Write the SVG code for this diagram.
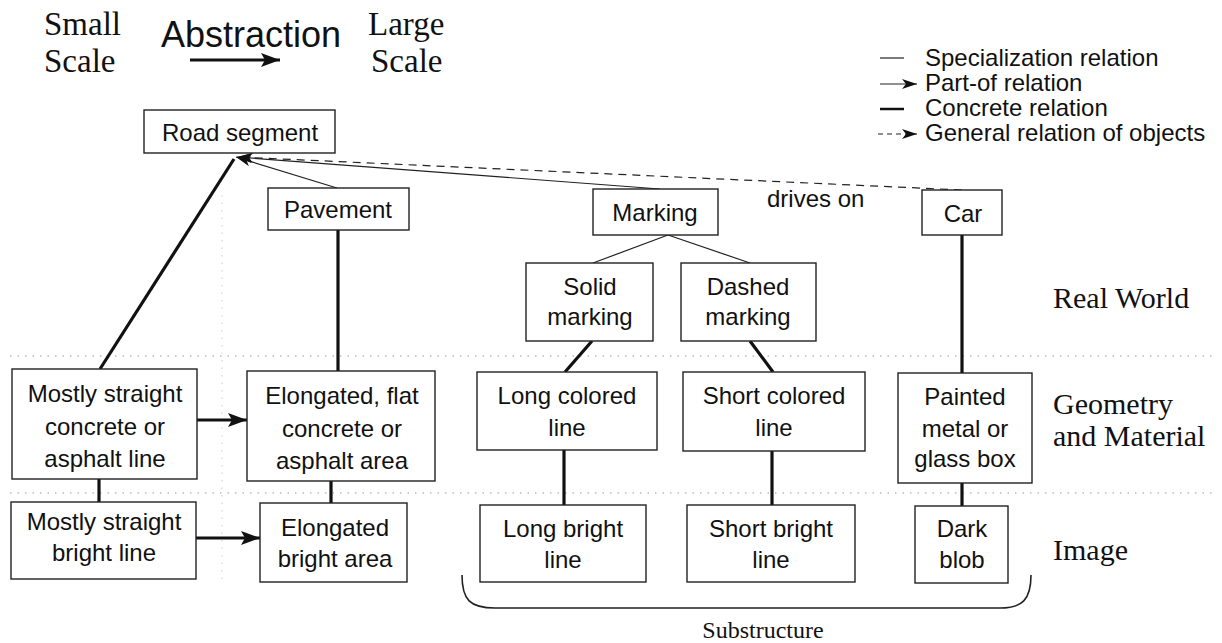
<svg xmlns="http://www.w3.org/2000/svg" width="1222" height="643" viewBox="0 0 1222 643">
<defs>
<style>
.box{fill:#fff;stroke:#222;stroke-width:1.4}
.t{font-family:"Liberation Sans",Arial,sans-serif;font-size:24px;fill:#111;text-anchor:middle}
.tl{font-family:"Liberation Sans",Arial,sans-serif;font-size:24px;fill:#111}
.s{font-family:"Liberation Serif","Times New Roman",serif;fill:#111}
.spec{stroke:#222;stroke-width:1.2;fill:none}
.part{stroke:#222;stroke-width:1.2;fill:none;marker-end:url(#ah)}
.partb{stroke:#111;stroke-width:3;fill:none;marker-end:url(#ahb)}
.conc{stroke:#111;stroke-width:3.2;fill:none}
.gen{stroke:#222;stroke-width:1.2;fill:none;stroke-dasharray:8 6;marker-end:url(#ah)}
.dot{stroke:#999;stroke-width:1;stroke-dasharray:1.5 6;fill:none}
.vdot{stroke:#ccc;stroke-width:1;stroke-dasharray:1.5 6;fill:none}
</style>
<marker id="ah" markerUnits="userSpaceOnUse" markerWidth="16" markerHeight="10" refX="15" refY="5" orient="auto">
<path d="M0,0 L15,5 L0,10 L4,5 z" fill="#111"/>
</marker>
<marker id="ahb" markerUnits="userSpaceOnUse" markerWidth="20" markerHeight="14" refX="19" refY="7" orient="auto">
<path d="M0,0 L19,7 L0,14 L4,7 z" fill="#111"/>
</marker>
</defs>
<rect width="1222" height="643" fill="#fff"/>

<g id="header">
<text class="s" x="44" y="35" font-size="33">Small</text>
<text class="s" x="44" y="72" font-size="33">Scale</text>
<text class="tl" x="161" y="47" style="font-size:36px">Abstraction</text>
<line x1="190" y1="60" x2="280" y2="60" class="partb"/>
<text class="s" x="368" y="35" font-size="33">Large</text>
<text class="s" x="371" y="72" font-size="33">Scale</text>
</g>

<g id="legend">
<line x1="880" y1="58" x2="904" y2="58" class="spec"/>
<text class="tl" x="925" y="66">Specialization relation</text>
<line x1="880" y1="84" x2="917" y2="84" class="part"/>
<text class="tl" x="925" y="91">Part-of relation</text>
<line x1="880" y1="109" x2="904" y2="109" class="conc" style="stroke-width:2.5"/>
<text class="tl" x="925" y="116">Concrete relation</text>
<line x1="878" y1="134" x2="917" y2="134" class="gen" style="stroke-dasharray:5 4"/>
<text class="tl" x="925" y="141">General relation of objects</text>
</g>

<g id="levels">
<line x1="10" y1="356" x2="1215" y2="356" class="dot"/>
<line x1="10" y1="493" x2="1215" y2="493" class="dot"/>
<line x1="222" y1="195" x2="222" y2="580" class="vdot"/>
<text class="s" x="1053" y="308" font-size="30">Real World</text>
<text class="s" x="1053" y="414" font-size="30">Geometry</text>
<text class="s" x="1053" y="446" font-size="30">and Material</text>
<text class="s" x="1053" y="560" font-size="30">Image</text>
</g>

<g id="connectors">
<line x1="100" y1="369" x2="234" y2="159" class="conc"/>
<line x1="337" y1="188" x2="236" y2="157" class="part"/>
<line x1="660" y1="189" x2="237" y2="157" class="part"/>
<line x1="962" y1="190" x2="238" y2="157" class="gen"/>
<line x1="668" y1="235" x2="593" y2="263" class="spec"/>
<line x1="668" y1="235" x2="750" y2="263" class="spec"/>
<line x1="338" y1="230" x2="338" y2="371" class="conc"/>
<line x1="962" y1="235" x2="962" y2="373" class="conc"/>
<line x1="592" y1="341" x2="565" y2="372" class="conc"/>
<line x1="750" y1="341" x2="773" y2="372" class="conc"/>
<line x1="99" y1="479" x2="99" y2="502" class="conc"/>
<line x1="331" y1="481" x2="331" y2="503" class="conc"/>
<line x1="564" y1="450" x2="564" y2="505" class="conc"/>
<line x1="772" y1="451" x2="772" y2="505" class="conc"/>
<line x1="962" y1="483" x2="962" y2="506" class="conc"/>
<line x1="197" y1="420" x2="247" y2="420" class="partb"/>
<line x1="196" y1="538" x2="260" y2="538" class="partb"/>
<text class="tl" x="767" y="207">drives on</text>
</g>

<g id="road-segment">
<rect class="box" x="144" y="110" width="191" height="43"/>
<text class="t" x="240" y="141">Road segment</text>
</g>
<g id="pavement">
<rect class="box" x="268" y="188" width="141" height="42"/>
<text class="t" x="338" y="218">Pavement</text>
</g>
<g id="marking">
<rect class="box" x="593" y="189" width="125" height="46"/>
<text class="t" x="655" y="221">Marking</text>
</g>
<g id="car">
<rect class="box" x="922" y="190" width="80" height="45"/>
<text class="t" x="963" y="222">Car</text>
</g>
<g id="solid-marking">
<rect class="box" x="526" y="263" width="127" height="78"/>
<text class="t" x="590" y="295">Solid</text>
<text class="t" x="590" y="325">marking</text>
</g>
<g id="dashed-marking">
<rect class="box" x="681" y="263" width="135" height="78"/>
<text class="t" x="748" y="295">Dashed</text>
<text class="t" x="748" y="325">marking</text>
</g>
<g id="straight-concrete">
<rect class="box" x="12" y="369" width="185" height="110"/>
<text class="t" x="105" y="402">Mostly straight</text>
<text class="t" x="105" y="435">concrete or</text>
<text class="t" x="105" y="467">asphalt line</text>
</g>
<g id="flat-area">
<rect class="box" x="247" y="371" width="188" height="110"/>
<text class="t" x="342" y="404">Elongated, flat</text>
<text class="t" x="342" y="437">concrete or</text>
<text class="t" x="342" y="469">asphalt area</text>
</g>
<g id="long-colored">
<rect class="box" x="477" y="372" width="180" height="78"/>
<text class="t" x="567" y="404">Long colored</text>
<text class="t" x="567" y="436">line</text>
</g>
<g id="short-colored">
<rect class="box" x="683" y="372" width="182" height="79"/>
<text class="t" x="774" y="404">Short colored</text>
<text class="t" x="774" y="436">line</text>
</g>
<g id="painted-box">
<rect class="box" x="898" y="373" width="134" height="110"/>
<text class="t" x="965" y="405">Painted</text>
<text class="t" x="965" y="437">metal or</text>
<text class="t" x="965" y="467">glass box</text>
</g>
<g id="straight-bright">
<rect class="box" x="11" y="502" width="185" height="77"/>
<text class="t" x="104" y="530">Mostly straight</text>
<text class="t" x="104" y="561">bright line</text>
</g>
<g id="bright-area">
<rect class="box" x="260" y="503" width="147" height="79"/>
<text class="t" x="335" y="536">Elongated</text>
<text class="t" x="335" y="567">bright area</text>
</g>
<g id="long-bright">
<rect class="box" x="480" y="505" width="166" height="77"/>
<text class="t" x="563" y="537">Long bright</text>
<text class="t" x="563" y="568">line</text>
</g>
<g id="short-bright">
<rect class="box" x="687" y="505" width="168" height="77"/>
<text class="t" x="771" y="537">Short bright</text>
<text class="t" x="771" y="568">line</text>
</g>
<g id="dark-blob">
<rect class="box" x="915" y="506" width="93" height="77"/>
<text class="t" x="962" y="537">Dark</text>
<text class="t" x="962" y="568">blob</text>
</g>

<g id="substructure">
<path d="M462,575 C462,600 470,608 495,608 L1000,608 C1022,608 1031,600 1031,575" fill="none" stroke="#222" stroke-width="1.6"/>
<text class="s" x="763" y="638" font-size="24" text-anchor="middle">Substructure</text>
</g>
</svg>
